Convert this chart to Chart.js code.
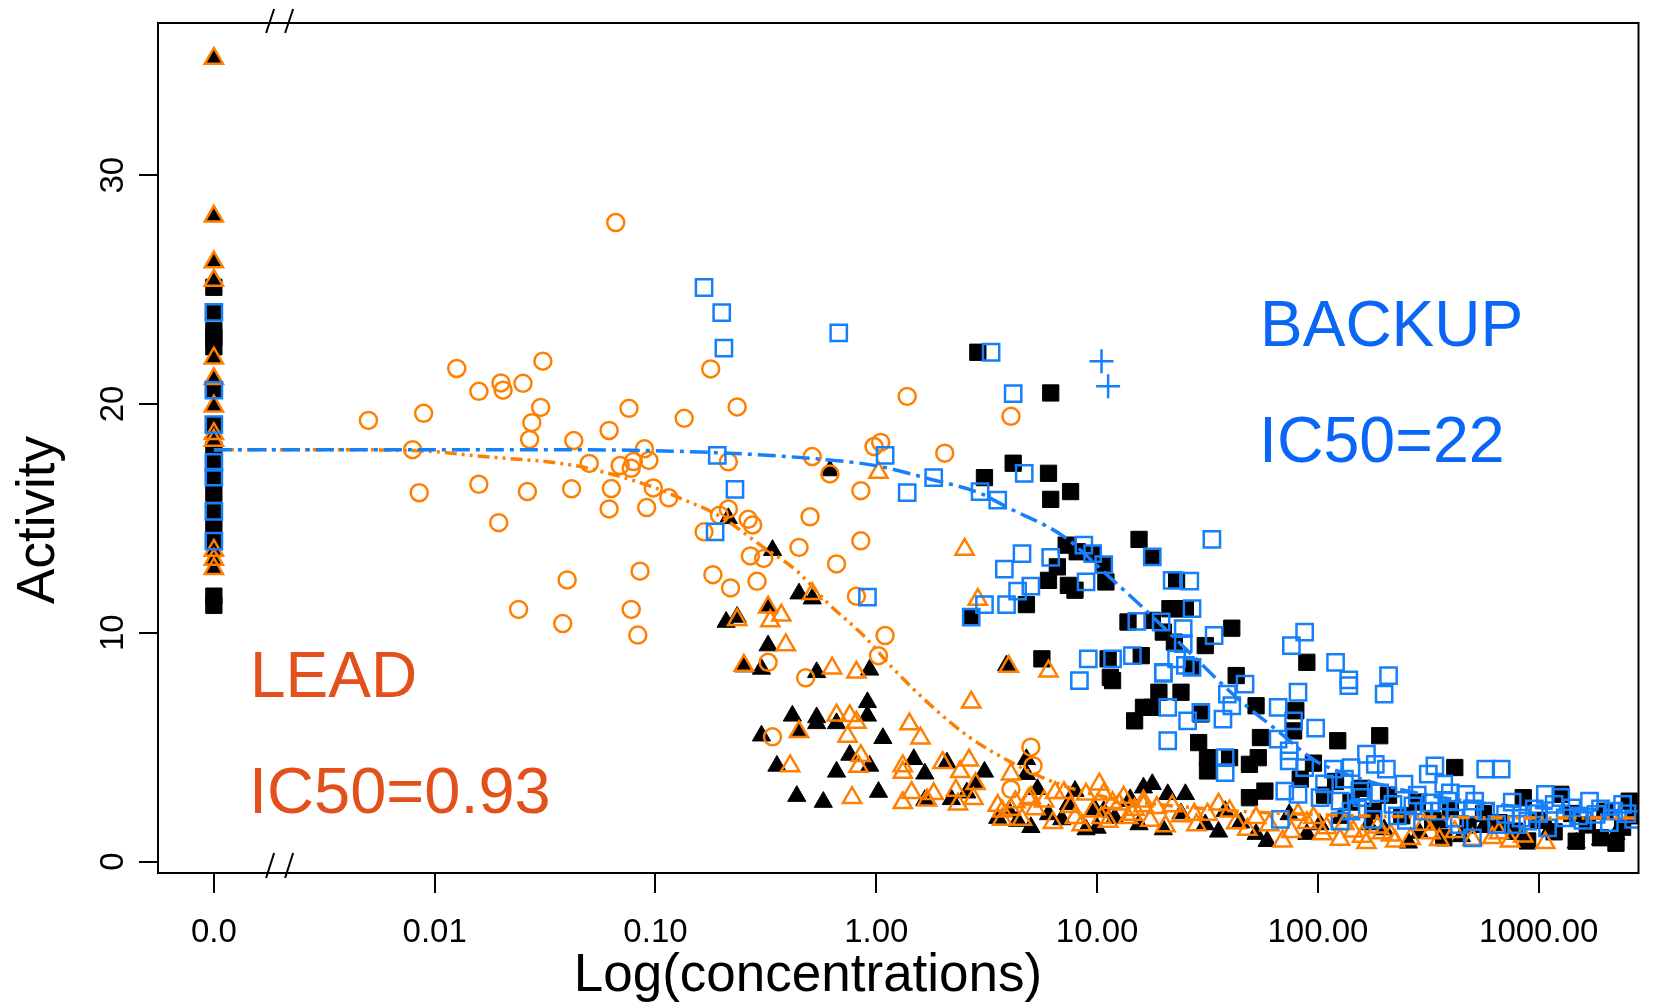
<!DOCTYPE html>
<html>
<head>
<meta charset="utf-8">
<title>Activity vs Log(concentrations)</title>
<script src="https://cdn.jsdelivr.net/npm/chart.js@4.4.1/dist/chart.umd.min.js"></script>
<style>
  html, body { margin: 0; padding: 0; background: #fff; }
  #wrap { width: 1653px; height: 1002px; }
</style>
</head>
<body>
<div id="wrap"><canvas id="ic50Chart" width="1653" height="1002"></canvas></div>
<script>
// x values are log10(concentration); the "0.0" (no compound) column sits at ZERO_POS, left of the axis break
const ZERO_POS = -3;
const BREAK_AT = -2.7;

const xTickValues = [-3, -2, -1, 0, 1, 2, 3];
const xTickLabels = ['0.0', '0.01', '0.10', '1.00', '10.00', '100.00', '1000.00'];
const yTickValues = [0, 10, 20, 30];

// controls at zero concentration (activity only)
const controlTriangles = [35.1, 28.2, 26.2, 25.4, 22.0, 21.1, 19.9, 18.7, 18.4, 13.6, 13.2, 12.8];
const controlSquares = [25.1, 24.0, 23.2, 22.9, 22.5, 20.6, 19.1, 18.0, 17.45, 16.8, 16.1, 15.3, 14.6, 14.0, 11.6, 11.2];
const controlBackup = [24.0, 20.6, 19.1, 17.45, 16.8, 15.3, 14.0];

// LEAD, open circles
const leadCircles = [
  [-2.30, 19.28], [-1.90, 21.55], [-2.05, 19.59], [-2.10, 18.0], [-2.07, 16.12], [-1.80, 20.55],
  [-1.70, 20.92], [-1.69, 20.6], [-1.60, 20.9], [-1.51, 21.87], [-1.52, 19.85], [-1.56, 19.18],
  [-1.57, 18.45], [-1.80, 16.49], [-1.58, 16.17], [-1.71, 14.81], [-1.37, 18.4], [-1.21, 18.84],
  [-1.12, 19.81], [-1.30, 17.4], [-1.16, 17.31], [-1.11, 17.19], [-1.10, 17.48], [-1.05, 18.04],
  [-1.03, 17.53], [-1.38, 16.29], [-1.20, 16.3], [-1.01, 16.33], [-0.94, 15.9], [-1.21, 15.41],
  [-1.04, 15.47], [-0.87, 19.37], [-0.75, 21.53], [-0.63, 19.87], [-0.67, 17.47], [-0.78, 14.41],
  [-0.71, 15.14], [-0.67, 15.41], [-0.58, 14.96], [-0.56, 14.71], [-0.57, 13.36], [-0.51, 13.25],
  [-0.74, 12.54], [-0.66, 11.96], [-0.54, 12.25], [-0.35, 13.73], [-0.30, 15.07], [-0.29, 17.7],
  [-1.40, 12.31], [-1.07, 12.69], [-1.62, 11.02], [-1.11, 11.02], [-1.08, 9.9], [-1.42, 10.4],
  [-0.49, 8.71], [-0.32, 8.03], [-0.21, 16.94], [-1.18, 27.93], [0.14, 20.33], [0.61, 19.46],
  [0.31, 17.85], [-0.01, 18.14], [0.02, 18.32], [-0.07, 16.21], [-0.07, 14.02], [-0.18, 13.01],
  [-0.09, 11.6], [0.04, 9.88], [0.01, 9.0], [-0.47, 5.45], [0.70, 5.0], [0.71, 4.19], [0.61, 3.16]
];

// LEAD, open triangles
const leadTriangles = [
  [-0.29, 11.71], [-0.63, 10.57], [-0.49, 11.12], [-0.48, 10.51], [-0.43, 10.76], [-0.41, 9.47],
  [-0.60, 8.57], [0.01, 17.0], [0.40, 13.64], [0.46, 11.45], [0.78, 8.32], [0.60, 8.52], [0.43, 6.96],
  [-0.20, 8.45], [-0.09, 8.27], [-0.18, 6.4], [-0.12, 6.37], [-0.09, 6.08], [-0.13, 5.47], [0.15, 6.01],
  [0.20, 5.39], [-0.35, 5.67], [-0.39, 4.18], [-0.07, 4.62], [-0.08, 4.15], [0.12, 4.18], [0.12, 3.89],
  [0.30, 4.32], [0.38, 3.92], [0.42, 4.43], [0.45, 3.4], [0.61, 3.82], [-0.11, 2.79], [0.12, 2.57],
  [0.16, 3.01], [0.23, 2.68], [0.26, 2.96], [0.36, 3.11], [0.37, 2.5], [0.44, 2.75], [0.57, 2.2],
  [0.57, 1.84], [0.66, 1.84], [0.70, 2.79], [0.61, 2.28], [0.69, 2.72], [0.76, 2.64], [0.81, 3.01],
  [0.85, 3.01], [0.90, 1.91], [0.95, 2.94], [1.01, 3.38], [1.07, 2.57], [1.02, 1.91], [1.14, 1.91],
  [1.21, 2.64], [1.17, 2.28], [1.03, 2.94], [1.10, 2.5], [1.16, 2.06], [1.21, 2.43], [1.27, 2.35],
  [1.31, 1.55], [1.34, 2.43], [1.38, 1.99], [1.44, 2.06], [1.50, 2.06], [1.55, 2.5], [1.63, 1.69],
  [1.72, 1.91], [1.84, 0.89], [1.91, 2.06], [1.98, 1.91], [2.04, 1.47], [2.10, 0.96], [2.16, 1.33],
  [2.22, 0.82], [2.29, 1.25], [2.35, 0.89], [2.48, 1.62], [2.51, 1.25], [2.70, 0.96], [2.79, 1.04],
  [2.87, 0.89], [3.03, 0.82], [2.82, 1.25], [2.93, 1.11], [0.55, 2.45], [0.63, 2.6], [0.72, 2.3],
  [0.80, 1.7], [0.88, 2.4], [0.93, 1.6], [0.98, 2.2], [1.05, 1.75], [1.12, 2.8], [1.24, 1.8],
  [1.45, 1.6], [1.60, 2.2], [1.68, 1.4], [1.78, 1.6], [1.88, 1.3], [1.95, 1.7], [2.02, 1.2],
  [2.12, 1.65], [2.20, 1.1], [2.27, 1.5], [2.33, 1.15], [2.42, 1.0], [2.55, 0.95], [2.62, 1.3]
];

// filled black triangles
const blackTriangles = [
  [-0.67, 15.0], [-0.47, 13.61], [-0.35, 11.71], [-0.29, 11.49], [-0.68, 10.47], [-0.63, 10.69],
  [-0.49, 11.12], [-0.49, 9.44], [-0.60, 8.52], [-0.52, 8.42], [-0.27, 8.27], [-0.38, 6.37],
  [-0.27, 6.3], [-0.21, 17.09], [-0.03, 8.38], [-0.04, 6.96], [-0.04, 6.37], [-0.27, 6.04],
  [-0.18, 6.04], [-0.52, 5.5], [-0.35, 5.67], [0.03, 5.39], [0.59, 8.57], [-0.45, 4.18], [-0.18, 3.92],
  [-0.12, 4.66], [-0.03, 4.18], [0.17, 4.47], [0.22, 3.84], [0.32, 4.32], [0.49, 3.92], [-0.36, 2.86],
  [-0.24, 2.6], [0.01, 3.04], [0.68, 4.47], [0.68, 3.82], [0.22, 2.68], [0.34, 2.72], [0.45, 3.38],
  [0.41, 3.01], [0.60, 2.2], [0.73, 3.16], [0.90, 3.08], [0.99, 2.28], [1.00, 1.47], [1.15, 2.64],
  [0.84, 1.84], [0.64, 1.77], [0.78, 2.06], [1.21, 3.23], [1.25, 3.38], [1.32, 2.94], [1.40, 2.94],
  [1.15, 2.72], [1.03, 2.2], [1.19, 1.62], [1.49, 1.62], [1.58, 2.2], [1.77, 0.89], [1.87, 2.06],
  [2.01, 1.62], [2.23, 1.62], [2.41, 0.82], [2.46, 1.25], [3.17, 0.82], [3.28, 0.96], [0.55, 1.9],
  [0.70, 1.5], [0.87, 2.5], [0.95, 1.4], [1.08, 1.9], [1.30, 1.4], [1.38, 2.1], [1.55, 1.3],
  [1.65, 1.7], [1.72, 1.2], [1.95, 1.2], [2.10, 1.9], [2.30, 1.4], [2.55, 1.7], [2.65, 1.1],
  [2.75, 1.5], [2.90, 1.2], [3.05, 1.4], [3.35, 1.2]
];

// filled black squares
const blackSquares = [
  [0.46, 22.26], [0.79, 20.48], [0.62, 17.41], [0.49, 16.78], [0.78, 16.97], [0.79, 15.83],
  [0.88, 16.17], [0.86, 13.83], [0.91, 13.54], [0.98, 13.43], [1.03, 12.95], [0.82, 12.88],
  [0.78, 12.29], [0.87, 12.07], [0.90, 11.86], [1.04, 12.22], [0.68, 11.23], [0.43, 10.68],
  [1.19, 14.08], [1.14, 10.47], [0.75, 8.86], [1.05, 8.86], [1.07, 7.91], [1.17, 6.15], [1.21, 6.74],
  [1.25, 13.32], [1.36, 12.29], [1.33, 11.05], [1.36, 11.05], [1.40, 11.05], [1.25, 10.54],
  [1.30, 10.03], [1.35, 9.59], [1.49, 9.44], [1.61, 10.2], [1.43, 8.49], [1.20, 9.0], [1.95, 8.71],
  [1.06, 8.05], [1.63, 8.13], [1.28, 7.4], [1.38, 7.4], [1.25, 6.74], [1.47, 6.45], [1.72, 6.81],
  [1.46, 5.2], [1.50, 4.54], [1.50, 3.96], [1.60, 4.54], [1.69, 4.25], [1.73, 4.54], [1.74, 5.42],
  [1.90, 6.59], [1.89, 5.71], [2.09, 5.28], [2.28, 5.5], [2.62, 4.11], [1.69, 2.79], [1.76, 3.08],
  [2.93, 2.79], [3.10, 2.94], [3.41, 2.64], [3.28, 1.04], [3.17, 0.89], [2.57, 1.04], [2.89, 1.33],
  [1.92, 3.6], [1.98, 4.3], [2.03, 2.9], [2.08, 3.5], [2.15, 2.6], [2.20, 3.2], [2.25, 2.2],
  [2.32, 2.9], [2.38, 2.0], [2.45, 2.6], [2.52, 1.8], [2.60, 2.3], [2.68, 1.6], [2.75, 2.1],
  [2.82, 1.7], [3.00, 1.8], [3.07, 1.3], [3.15, 2.1], [3.22, 1.6], [3.30, 2.2], [3.38, 1.5],
  [3.44, 2.0], [2.95, 0.9], [3.35, 0.8]
];

// BACKUP, open squares
const backupSquares = [
  [-0.78, 25.09], [-0.70, 23.99], [-0.69, 22.44], [-0.17, 23.11], [0.52, 22.26], [0.62, 20.45],
  [-0.72, 17.75], [-0.64, 16.27], [-0.73, 14.41], [0.04, 17.75], [0.14, 16.12], [0.26, 16.78],
  [0.47, 16.17], [0.55, 15.8], [0.67, 16.97], [0.66, 13.46], [0.58, 12.78], [0.79, 13.29],
  [0.94, 13.83], [0.98, 13.46], [1.03, 12.98], [0.95, 12.22], [0.70, 12.04], [0.64, 11.82],
  [0.49, 11.23], [0.59, 11.23], [0.43, 10.68], [-0.04, 11.56], [1.18, 10.5], [0.96, 8.86],
  [1.07, 8.86], [0.92, 7.91], [1.16, 9.0], [1.52, 14.08], [1.25, 13.32], [1.42, 12.26], [1.34, 12.29],
  [1.43, 11.05], [1.29, 10.47], [1.39, 10.18], [1.53, 9.88], [1.39, 9.52], [1.36, 8.86], [1.43, 8.49],
  [1.30, 8.27], [1.94, 10.03], [1.88, 9.44], [2.08, 8.71], [2.32, 8.13], [2.14, 7.94], [2.14, 7.69],
  [2.30, 7.32], [1.91, 7.4], [1.32, 5.28], [1.32, 6.74], [1.41, 6.15], [1.47, 6.52], [1.57, 6.23],
  [1.30, 8.23], [1.40, 8.57], [1.67, 7.76], [1.59, 7.32], [1.61, 6.81], [1.82, 6.74], [1.89, 6.15],
  [1.99, 5.83], [1.82, 5.35], [1.58, 4.54], [1.58, 3.89], [1.85, 3.08], [1.91, 2.94], [1.83, 1.84],
  [1.87, 4.4], [1.87, 4.84], [1.94, 4.11], [2.07, 4.04], [2.15, 4.11], [2.22, 4.69], [2.26, 4.25],
  [2.31, 4.04], [2.01, 2.79], [2.10, 2.64], [2.10, 1.77], [2.19, 3.08], [2.25, 1.84], [2.34, 2.5],
  [2.39, 3.38], [2.43, 2.43], [2.50, 3.82], [2.53, 4.18], [2.57, 3.38], [2.51, 2.57], [2.59, 2.64],
  [2.67, 2.94], [2.71, 2.64], [2.76, 2.2], [2.64, 1.62], [2.70, 1.04], [2.76, 4.04], [2.83, 4.04],
  [2.85, 2.06], [2.95, 1.77], [3.03, 2.94], [3.07, 2.5], [3.15, 2.35], [3.23, 2.64], [3.26, 2.06],
  [3.34, 2.2], [3.43, 1.84], [3.12, 1.91], [3.04, 1.47], [2.90, 1.62], [2.81, 1.62], [2.03, 3.4],
  [2.12, 3.6], [2.18, 2.3], [2.28, 3.0], [2.36, 2.0], [2.45, 2.9], [2.55, 2.2], [2.62, 1.9],
  [2.98, 2.3], [3.10, 2.8], [3.20, 1.8], [3.38, 2.5], [2.20, 2.8], [2.40, 1.8], [2.60, 3.0],
  [2.70, 2.3], [2.88, 2.6], [2.92, 1.9], [3.00, 2.1], [3.18, 2.0], [3.28, 2.3], [3.32, 1.7],
  [3.40, 2.1], [2.48, 2.2], [2.15, 2.2]
];

// BACKUP, plus signs
const backupCrosses = [[1.02, 21.87], [1.05, 20.77]];

// fitted dose-response curves
const leadFit = [
  [-3.0, 18.0], [-2.5, 18.0], [-2.06, 17.95], [-1.78, 17.7], [-1.47, 17.45], [-1.31, 17.2],
  [-1.02, 16.4], [-0.88, 15.85], [-0.71, 15.1], [-0.52, 13.8], [-0.36, 12.7], [-0.22, 11.3],
  [-0.05, 9.8], [0.07, 8.5], [0.25, 6.8], [0.42, 5.45], [0.59, 4.45], [0.77, 3.6], [1.0, 2.9],
  [1.5, 2.3], [2.0, 2.05], [2.5, 1.95], [3.0, 1.9], [3.44, 1.9]
];
const backupFit = [
  [-3.0, 18.0], [-2.0, 18.0], [-1.46, 18.0], [-0.8, 17.9], [-0.27, 17.6], [0.0, 17.3], [0.25, 16.7],
  [0.47, 16.1], [0.59, 15.5], [0.85, 14.2], [1.06, 12.4], [1.23, 10.9], [1.38, 9.5], [1.64, 7.1],
  [1.82, 5.7], [1.99, 4.4], [2.2, 3.6], [2.5, 2.9], [2.8, 2.5], [3.1, 2.3], [3.44, 2.2]
];

const ORANGE = '#FF8000';
const BLUE = '#1580FA';
const LEAD_TEXT = '#E4501B';
const BACKUP_TEXT = '#0A66F5';
const FONT = "'Liberation Sans', Arial, sans-serif";

const pts = (arr) => arr.map(([x, y]) => ({ x, y }));
const ctrl = (arr) => arr.map((y) => ({ x: ZERO_POS, y }));

function text(ctx, str, x, y, size, color, rot) {
  ctx.save();
  ctx.font = size + 'px ' + FONT;
  ctx.fillStyle = color;
  ctx.translate(x, y);
  if (rot) ctx.rotate(rot);
  ctx.fillText(str, 0, 0);
  ctx.restore();
}

const decorations = {
  id: 'decorations',
  afterDraw(chart) {
    const { ctx, chartArea: a, scales } = chart;
    ctx.save();
    ctx.strokeStyle = '#000';
    ctx.lineWidth = 2;
    ctx.strokeRect(a.left, a.top, a.right - a.left, a.bottom - a.top);

    // "//" axis break marks
    const bx = scales.x.getPixelForValue(BREAK_AT);
    [-14, 5].forEach((dx) => {
      ctx.beginPath();
      ctx.moveTo(bx + dx, a.top + 10);
      ctx.lineTo(bx + dx + 8, a.top - 14);
      ctx.stroke();
      ctx.beginPath();
      ctx.moveTo(bx + dx, a.bottom + 5);
      ctx.lineTo(bx + dx + 8, a.bottom - 20);
      ctx.stroke();
    });

    ctx.textAlign = 'center';
    ctx.textBaseline = 'alphabetic';
    yTickValues.forEach((v) => {
      text(ctx, String(v), 123, scales.y.getPixelForValue(v), 33, '#000', -Math.PI / 2);
    });
    text(ctx, 'Activity', 54, 520, 53, '#000', -Math.PI / 2);
    text(ctx, 'Log(concentrations)', 808, 991, 53, '#000');

    ctx.textAlign = 'left';
    text(ctx, 'LEAD', 250, 697, 64, LEAD_TEXT);
    text(ctx, 'IC50=0.93', 249, 813, 65, LEAD_TEXT);
    text(ctx, 'BACKUP', 1260, 346, 64, BACKUP_TEXT);
    text(ctx, 'IC50=22', 1259, 462, 64.5, BACKUP_TEXT);
    ctx.restore();
  }
};

Chart.defaults.font.family = FONT;

new Chart(document.getElementById('ic50Chart'), {
  type: 'scatter',
  data: {
    datasets: [
      {
        data: pts(backupFit), showLine: true, borderColor: BLUE, borderWidth: 3.5,
        borderDash: [18, 6, 4, 6], pointRadius: 0, cubicInterpolationMode: 'monotone', order: 0
      },
      {
        data: pts(leadFit), showLine: true, borderColor: ORANGE, borderWidth: 3.5,
        borderDash: [12, 5, 3, 5, 3, 5], pointRadius: 0, cubicInterpolationMode: 'monotone', order: 1
      },
      {
        data: pts(backupCrosses), pointStyle: 'cross', pointRadius: 12, borderColor: BLUE,
        borderWidth: 2.5, order: 2
      },
      {
        data: pts(backupSquares).concat(ctrl(controlBackup)), pointStyle: 'rect', pointRadius: 11.5,
        borderColor: BLUE, backgroundColor: 'transparent', borderWidth: 2.5, order: 3
      },
      {
        data: pts(leadCircles), pointStyle: 'circle', pointRadius: 8.5,
        borderColor: ORANGE, backgroundColor: 'transparent', borderWidth: 2.5, order: 4
      },
      {
        data: pts(leadTriangles).concat(ctrl(controlTriangles)), pointStyle: 'triangle', pointRadius: 10.5,
        borderColor: ORANGE, backgroundColor: 'transparent', borderWidth: 2.5, order: 5
      },
      {
        data: pts(blackSquares).concat(ctrl(controlSquares)), pointStyle: 'rect', pointRadius: 11.5,
        borderColor: '#000', backgroundColor: '#000', borderWidth: 1, order: 6
      },
      {
        data: pts(blackTriangles).concat(ctrl(controlTriangles)), pointStyle: 'triangle', pointRadius: 10.5,
        borderColor: '#000', backgroundColor: '#000', borderWidth: 1, order: 7
      }
    ]
  },
  options: {
    responsive: false,
    animation: false,
    devicePixelRatio: 1,
    events: [],
    layout: { padding: { top: 23, right: 8, left: 0, bottom: 0 } },
    plugins: { legend: { display: false }, tooltip: { enabled: false } },
    scales: {
      x: {
        type: 'linear',
        min: -3.253,
        max: 3.452,
        afterBuildTicks: (s) => { s.ticks = xTickValues.map((v) => ({ value: v })); },
        afterFit: (s) => { s.height = 129; },
        border: { display: false },
        grid: { drawOnChartArea: false, drawTicks: true, tickLength: 20, lineWidth: 2, color: '#000' },
        ticks: {
          autoSkip: false, maxRotation: 0, minRotation: 0, padding: 20, color: '#000',
          font: { size: 33 },
          callback: (v) => xTickLabels[xTickValues.indexOf(v)]
        }
      },
      y: {
        type: 'linear',
        min: -0.5,
        max: 36.65,
        afterBuildTicks: (s) => { s.ticks = yTickValues.map((v) => ({ value: v })); },
        afterFit: (s) => { s.width = 158; },
        border: { display: false },
        grid: { drawOnChartArea: false, drawTicks: true, tickLength: 19, lineWidth: 2, color: '#000' },
        ticks: { display: false }
      }
    }
  },
  plugins: [decorations]
});
</script>
</body>
</html>
